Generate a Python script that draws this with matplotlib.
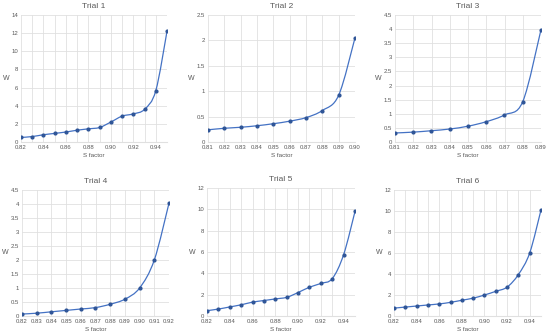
import numpy as np
import matplotlib
matplotlib.use("Agg")
import matplotlib.pyplot as plt
from matplotlib.path import Path
from matplotlib.patches import PathPatch
from matplotlib.ticker import FuncFormatter, MultipleLocator

plt.rcParams["font.family"] = ["Liberation Sans", "DejaVu Sans"]

# --- data ---
trial1_s = [0.82, 0.83, 0.84, 0.85, 0.86, 0.87, 0.88, 0.89, 0.90, 0.91, 0.92, 0.93, 0.94, 0.95]
trial1_w = [0.5, 0.6, 0.8, 0.95, 1.1, 1.3, 1.45, 1.6, 2.2, 2.85, 3.1, 3.6, 5.65, 12.2]

trial2_s = [0.81, 0.82, 0.83, 0.84, 0.85, 0.86, 0.87, 0.88, 0.89, 0.90]
trial2_w = [0.24, 0.27, 0.29, 0.32, 0.36, 0.41, 0.48, 0.62, 0.92, 2.05]

trial3_s = [0.81, 0.82, 0.83, 0.84, 0.85, 0.86, 0.87, 0.88, 0.89]
trial3_w = [0.32, 0.35, 0.40, 0.46, 0.56, 0.72, 0.96, 1.43, 3.98]

trial4_s = [0.82, 0.83, 0.84, 0.85, 0.86, 0.87, 0.88, 0.89, 0.90, 0.91, 0.92]
trial4_w = [0.07, 0.10, 0.15, 0.20, 0.25, 0.30, 0.42, 0.60, 1.00, 2.00, 4.03]

trial5_s = [0.82, 0.83, 0.84, 0.85, 0.86, 0.87, 0.88, 0.89, 0.90, 0.91, 0.92, 0.93, 0.94, 0.95]
trial5_w = [0.5, 0.65, 0.85, 1.05, 1.3, 1.45, 1.6, 1.75, 2.2, 2.7, 3.05, 3.5, 5.75, 9.8]

trial6_s = [0.82, 0.83, 0.84, 0.85, 0.86, 0.87, 0.88, 0.89, 0.90, 0.91, 0.92, 0.93, 0.94, 0.95]
trial6_w = [0.75, 0.85, 0.95, 1.05, 1.15, 1.3, 1.5, 1.7, 2.0, 2.35, 2.75, 3.95, 6.0, 10.1]

LINE = "#4472c4"
GRID = "#e0e0e0"
TEXT = "#595959"


def smooth_path(x, y):
    """Excel-like smoothed line: cubic Bezier through the points."""
    pts = np.column_stack([x, y])
    verts = [pts[0]]
    codes = [Path.MOVETO]
    n = len(pts)
    for i in range(n - 1):
        p0 = pts[i - 1] if i > 0 else pts[i]
        p1, p2 = pts[i], pts[i + 1]
        p3 = pts[i + 2] if i + 2 < n else pts[i + 1]
        c1 = p1 + (p2 - p0) / 6.0
        c2 = p2 - (p3 - p1) / 6.0
        verts += [c1, c2, p2]
        codes += [Path.CURVE4] * 3
    return Path(verts, codes)


def draw_trial(fig, rect, title, s, w, xlim, xstep, ymax, ystep):
    ax = fig.add_axes(rect)
    ax.add_patch(PathPatch(smooth_path(s, w), fill=False, edgecolor=LINE, lw=0.9))
    ax.plot(s, w, "o", ms=2.0, color="#2f5597", zorder=3)
    ax.set_xlim(*xlim)
    ax.set_ylim(0, ymax)
    ax.xaxis.set_major_locator(MultipleLocator(xstep))
    ax.xaxis.set_minor_locator(MultipleLocator(0.01))
    ax.yaxis.set_major_locator(MultipleLocator(ystep))
    ax.xaxis.set_major_formatter(FuncFormatter(lambda v, _: f"{v:.2f}"))
    ax.yaxis.set_major_formatter(FuncFormatter(lambda v, _: f"{v:g}"))
    ax.grid(True, which="both", color=GRID, lw=0.6)
    ax.set_axisbelow(True)
    for side in ["top", "right", "left"]:
        ax.spines[side].set_visible(False)
    ax.spines["bottom"].set_color(GRID)
    ax.tick_params(which="both", length=0, labelsize=4.3, colors=TEXT, pad=2)
    ax.set_title(title, fontsize=6, color=TEXT, pad=5)
    ax.set_xlabel("S factor", fontsize=4.5, color=TEXT, labelpad=2)
    ax.set_ylabel("W", fontsize=5, color=TEXT, rotation=0, labelpad=4, va="center")
    return ax


fig = plt.figure(figsize=(5.5, 3.35), dpi=100)
W, H = 550.0, 335.0


def r(left, right, top, bottom):
    return [left / W, 1 - bottom / H, (right - left) / W, (bottom - top) / H]


draw_trial(fig, r(21, 167, 15, 142), "Trial 1", trial1_s, trial1_w, (0.82, 0.95), 0.02, 14, 2)
draw_trial(fig, r(208, 355, 15, 142), "Trial 2", trial2_s, trial2_w, (0.81, 0.90), 0.01, 2.5, 0.5)
draw_trial(fig, r(395, 541, 15, 142), "Trial 3", trial3_s, trial3_w, (0.81, 0.89), 0.01, 4.5, 0.5)
draw_trial(fig, r(22, 169, 190, 316), "Trial 4", trial4_s, trial4_w, (0.82, 0.92), 0.01, 4.5, 0.5)
draw_trial(fig, r(207, 355, 188, 316), "Trial 5", trial5_s, trial5_w, (0.82, 0.95), 0.02, 12, 2)
draw_trial(fig, r(394, 541, 190, 316), "Trial 6", trial6_s, trial6_w, (0.82, 0.95), 0.02, 12, 2)

fig.savefig("out.png", dpi=100, facecolor="white")
